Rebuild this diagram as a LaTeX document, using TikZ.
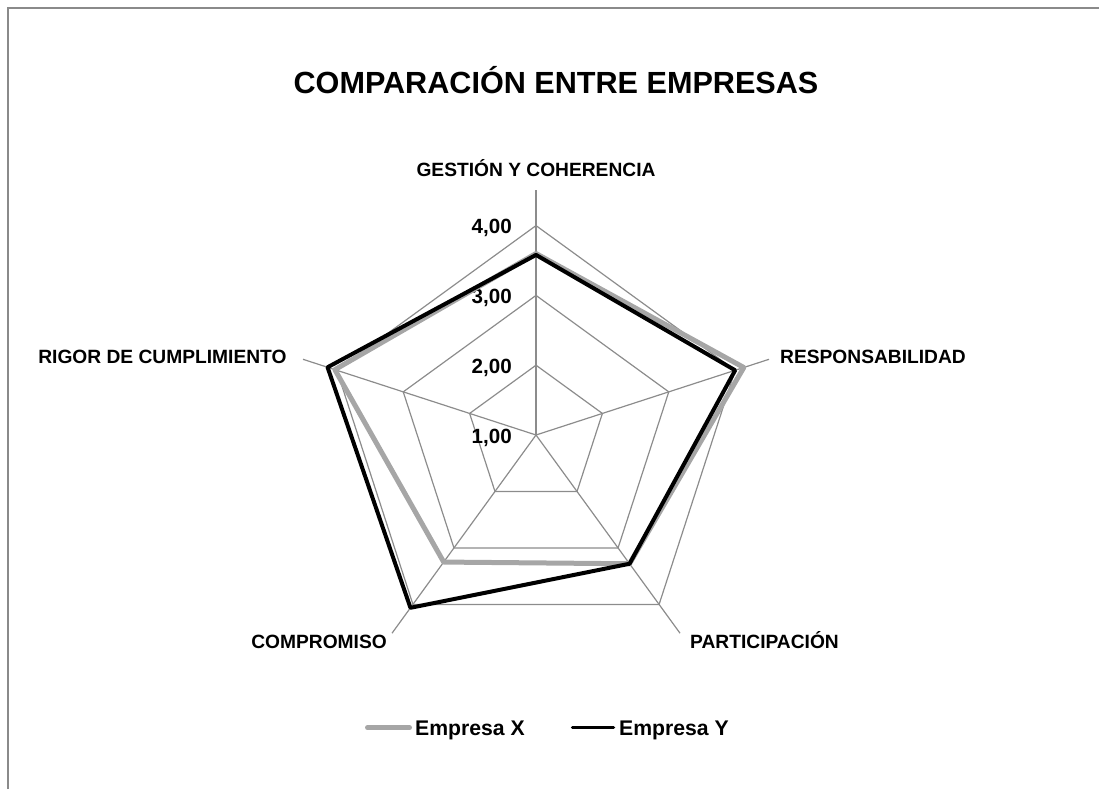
\documentclass[tikz,border=0pt]{standalone}
\usepackage{fontspec}
\setmainfont{Liberation Sans}
\definecolor{gridgray}{HTML}{8C8C8C}
\definecolor{framegray}{HTML}{8A8A8A}
\definecolor{seriesgray}{HTML}{A6A6A6}
\begin{document}
\begin{tikzpicture}[x=1pt,y=-1pt,
  gridline/.style={draw=gridgray, line width=1.2pt},
  serx/.style={draw=seriesgray, line width=5pt, line join=round},
  sery/.style={draw=black, line width=4pt, line join=round},
  catlbl/.style={inner sep=0pt, font=\bfseries\fontsize{19.2}{23}\selectfont},
  numlbl/.style={inner sep=0pt, anchor=base east, font=\bfseries\fontsize{20.6}{24}\selectfont},
  leglbl/.style={inner sep=0pt, anchor=base west, font=\bfseries\fontsize{21.2}{25}\selectfont}]
\useasboundingbox (0,0) rectangle (1099,789);
% frame
\draw[framegray, line width=1.3pt] (8,789) -- (8,8) -- (1099,8);
% title
\node[inner sep=0pt, anchor=base, font=\bfseries\fontsize{30.6}{36}\selectfont] (title) at (556,93.3) {COMPARACIÓN ENTRE EMPRESAS};
% centre and axes
\coordinate (ctr) at (536,435);
\foreach \a [count=\i] in {90,18,-54,-126,162} {
  \coordinate (ax\i) at ({536+245*cos(\a)},{435-245*sin(\a)});
  \draw[gridline] (ctr) -- (ax\i);
}
% rings
\foreach \r in {69.8,139.6,209.4} {
  \draw[gridline, line join=miter] plot[samples at={90,18,-54,-126,162}] ({536+\r*cos(\x)},{435-\r*sin(\x)}) -- cycle;
}
% value labels
\node[numlbl] (n1) at (512,443.3) {1,00};
\node[numlbl] (n2) at (512,373.3) {2,00};
\node[numlbl] (n3) at (512,303.3) {3,00};
\node[numlbl] (n4) at (512,233.3) {4,00};
% category labels
\node[catlbl, anchor=base] (lg) at (536,176) {GESTIÓN Y COHERENCIA};
\node[catlbl, anchor=base west] (lr) at (780,363.3) {RESPONSABILIDAD};
\node[catlbl, anchor=base west] (lp) at (690,648) {PARTICIPACIÓN};
\node[catlbl, anchor=base east] (lc) at (387,648) {COMPROMISO};
\node[catlbl, anchor=base east] (lri) at (286.7,363.3) {RIGOR DE CUMPLIMIENTO};
% data points
\foreach \a/\vx/\vy [count=\i] in {90/3.60/3.58, 18/4.13/4.00, -54/3.28/3.28, -126/3.25/4.06, 162/4.03/4.14} {
  \coordinate (px\i) at ({536+(\vx-1)*69.8*cos(\a)},{435-(\vx-1)*69.8*sin(\a)});
  \coordinate (py\i) at ({536+(\vy-1)*69.8*cos(\a)},{435-(\vy-1)*69.8*sin(\a)});
}
\draw[serx] (px1) -- (px2) -- (px3) -- (px4) -- (px5) -- cycle;
\draw[sery] (py1) -- (py2) -- (py3) -- (py4) -- (py5) -- cycle;
% legend
\coordinate (lxa) at (367.5,727.7);
\coordinate (lxb) at (409.5,727.7);
\coordinate (lya) at (572.5,727.7);
\coordinate (lyb) at (613.5,727.7);
\draw[serx, line cap=round] (lxa) -- (lxb);
\draw[draw=black, line width=3.5pt, line cap=round] (lya) -- (lyb);
\node[leglbl] (legx) at (415,735) {Empresa X};
\node[leglbl] (legy) at (619,735) {Empresa Y};
\end{tikzpicture}
\end{document}
